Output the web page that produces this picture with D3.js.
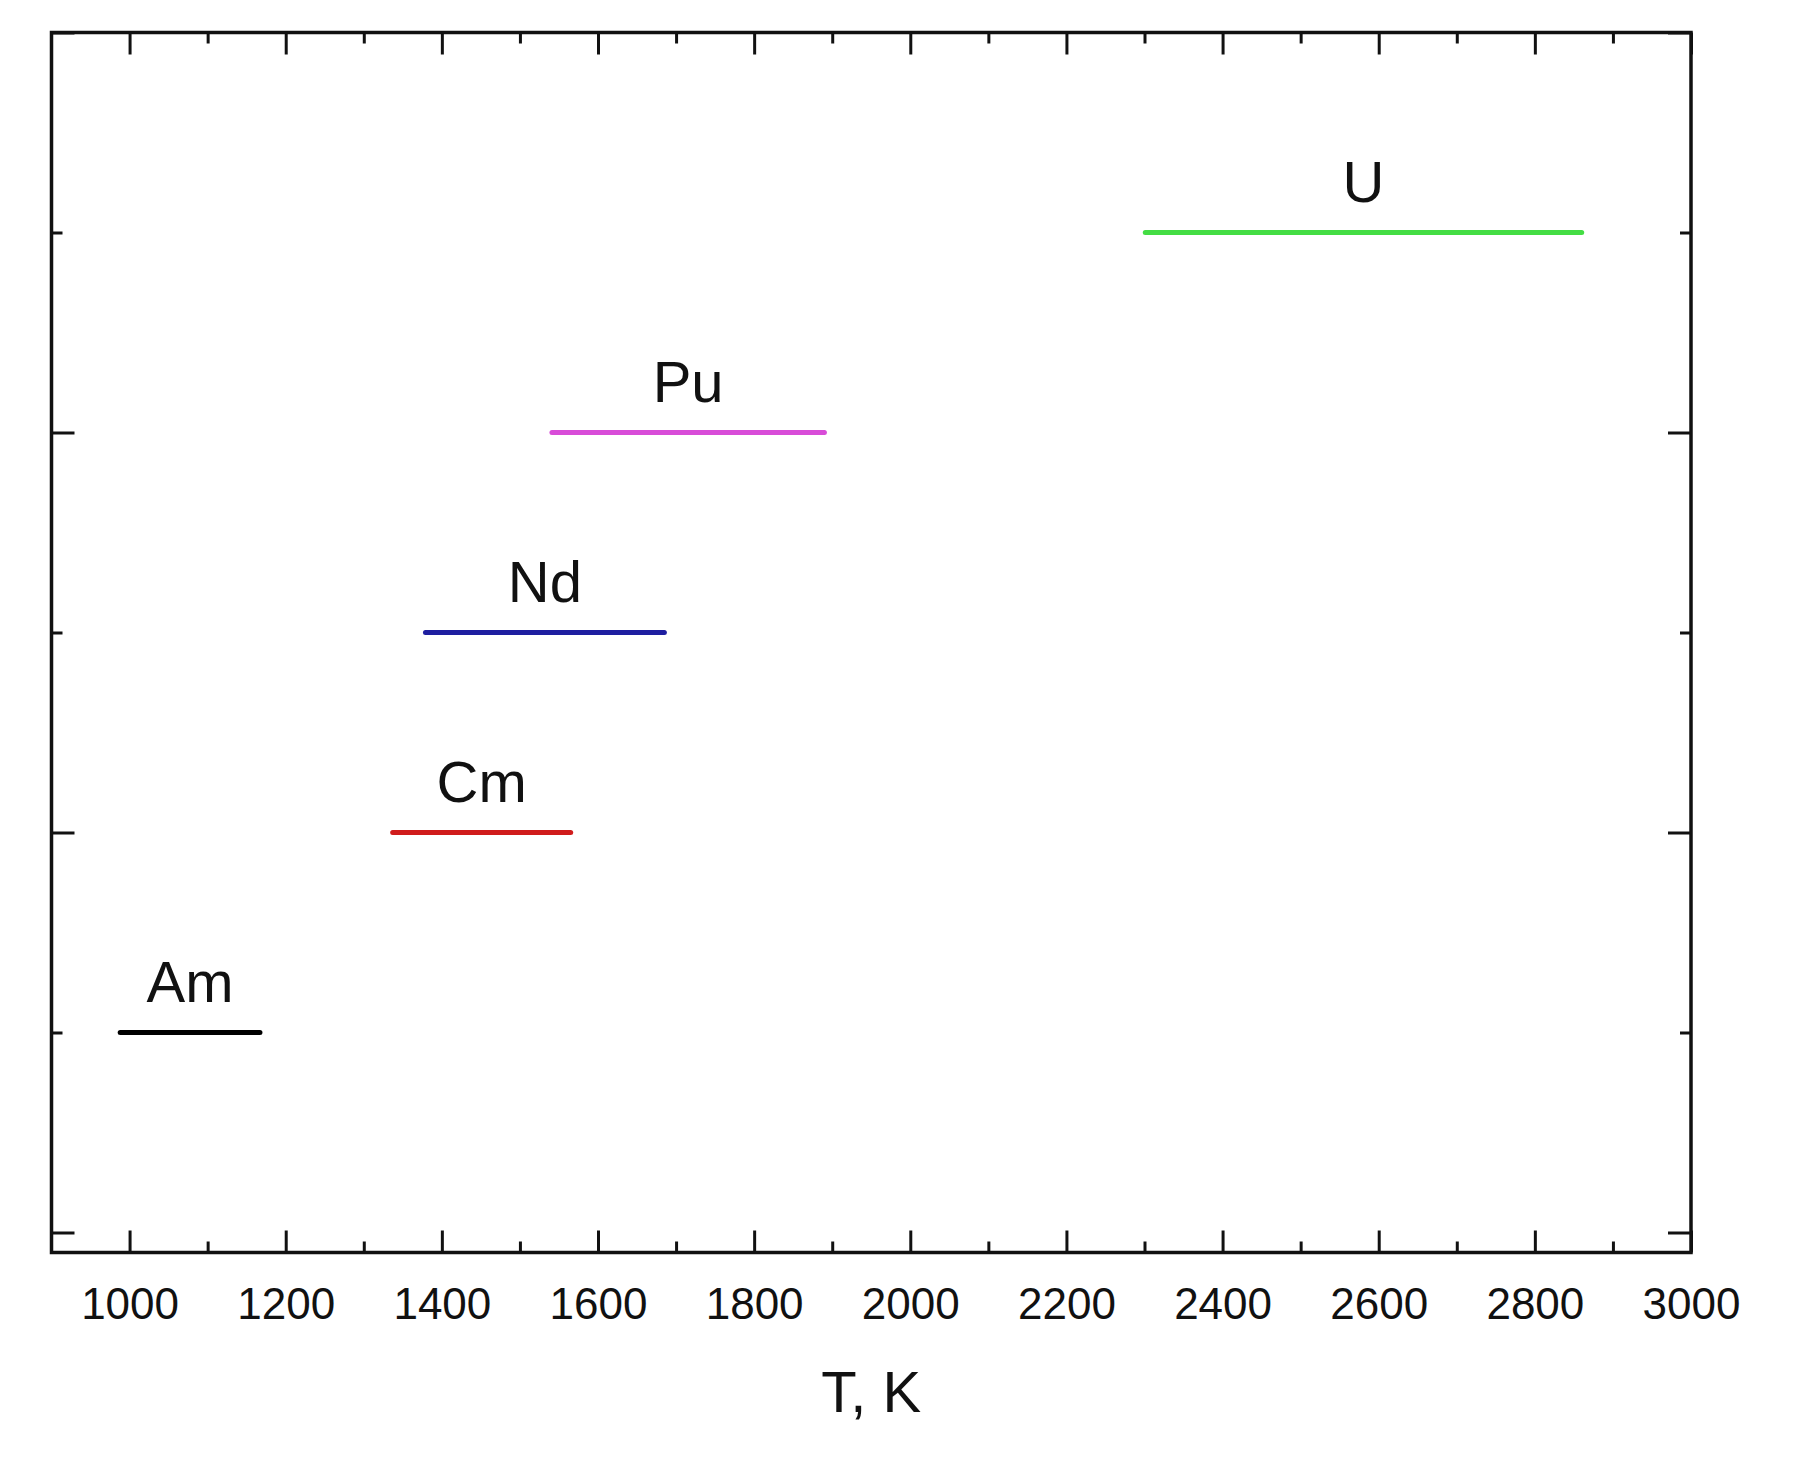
<!DOCTYPE html>
<html>
<head>
  <meta charset="utf-8">
  <title>Temperature ranges</title>
  <script src="https://d3js.org/d3.v7.min.js"></script>
  <style>
    body { margin: 0; background: #fff; }
    text { font-family: Arial, "Liberation Sans", sans-serif; fill: #111; }
  </style>
</head>
<body>
<div id="chart"></div>
<script>
// element labels and their temperature ranges (K)
var elements = ["Am", "Cm", "Nd", "Pu", "U"];
var levels = [1, 2, 3, 4, 5];
var tStart = [988, 1337, 1379, 1541, 2301];
var tEnd = [1167, 1565, 1685, 1890, 2860];
var colors = ["#000000", "#d01c1c", "#1e1ea0", "#d84cd8", "#44dd44"];

var xMajor = [1000, 1200, 1400, 1600, 1800, 2000, 2200, 2400, 2600, 2800, 3000];
var xMinor = [1100, 1300, 1500, 1700, 1900, 2100, 2300, 2500, 2700, 2900];
var yMajor = [0, 2, 4, 6];
var yMinor = [1, 3, 5];
var xTitle = "T, K";

var W = 1800, H = 1466;
var plotL = 51.5, plotR = 1691, plotT = 32.5, plotB = 1252.5;

var svg = d3.select("#chart").append("svg")
  .attr("width", W)
  .attr("height", H);

var x = d3.scaleLinear().domain([900, 3000]).range([plotL, plotR]);
var y = d3.scaleLinear().domain([-0.1, 6]).range([plotB, plotT]);

function styleAxis(g) {
  g.select(".domain").remove();
  g.selectAll(".tick line").attr("stroke", "#111").attr("stroke-width", 3);
}

// major ticks, all pointing inward
svg.append("g")
  .attr("transform", "translate(0," + plotB + ")")
  .call(d3.axisBottom(x).tickValues(xMajor).tickSize(-22).tickPadding(35).tickFormat(d3.format("d")))
  .call(styleAxis)
  .selectAll("text")
  .attr("font-size", 44)
  .style("fill", "#111");

svg.append("g")
  .attr("transform", "translate(0," + plotT + ")")
  .call(d3.axisTop(x).tickValues(xMajor).tickSize(-22).tickFormat(""))
  .call(styleAxis);

svg.append("g")
  .attr("transform", "translate(0," + plotB + ")")
  .call(d3.axisBottom(x).tickValues(xMinor).tickSize(-11).tickFormat(""))
  .call(styleAxis);

svg.append("g")
  .attr("transform", "translate(0," + plotT + ")")
  .call(d3.axisTop(x).tickValues(xMinor).tickSize(-11).tickFormat(""))
  .call(styleAxis);

svg.append("g")
  .attr("transform", "translate(" + plotL + ",0)")
  .call(d3.axisLeft(y).tickValues(yMajor).tickSize(-23).tickFormat(""))
  .call(styleAxis);

svg.append("g")
  .attr("transform", "translate(" + plotR + ",0)")
  .call(d3.axisRight(y).tickValues(yMajor).tickSize(-23).tickFormat(""))
  .call(styleAxis);

svg.append("g")
  .attr("transform", "translate(" + plotL + ",0)")
  .call(d3.axisLeft(y).tickValues(yMinor).tickSize(-11).tickFormat(""))
  .call(styleAxis);

svg.append("g")
  .attr("transform", "translate(" + plotR + ",0)")
  .call(d3.axisRight(y).tickValues(yMinor).tickSize(-11).tickFormat(""))
  .call(styleAxis);

// frame
svg.append("rect")
  .attr("x", plotL)
  .attr("y", plotT)
  .attr("width", plotR - plotL)
  .attr("height", plotB - plotT)
  .attr("fill", "none")
  .attr("stroke", "#111")
  .attr("stroke-width", 3.5);

// range segments
svg.selectAll(".seg")
  .data(elements)
  .enter().append("line")
  .attr("class", "seg")
  .attr("x1", (d, i) => x(tStart[i]))
  .attr("x2", (d, i) => x(tEnd[i]))
  .attr("y1", (d, i) => y(levels[i]))
  .attr("y2", (d, i) => y(levels[i]))
  .attr("stroke", (d, i) => colors[i])
  .attr("stroke-width", 5)
  .attr("stroke-linecap", "round");

svg.selectAll(".lbl")
  .data(elements)
  .enter().append("text")
  .attr("class", "lbl")
  .attr("x", (d, i) => x((tStart[i] + tEnd[i]) / 2))
  .attr("y", (d, i) => y(levels[i]) - 31)
  .attr("text-anchor", "middle")
  .attr("font-size", 58)
  .text(d => d);

// x axis title
svg.append("text")
  .attr("x", (plotL + plotR) / 2)
  .attr("y", 1412)
  .attr("text-anchor", "middle")
  .attr("font-size", 58)
  .text(xTitle);
</script>
</body>
</html>
